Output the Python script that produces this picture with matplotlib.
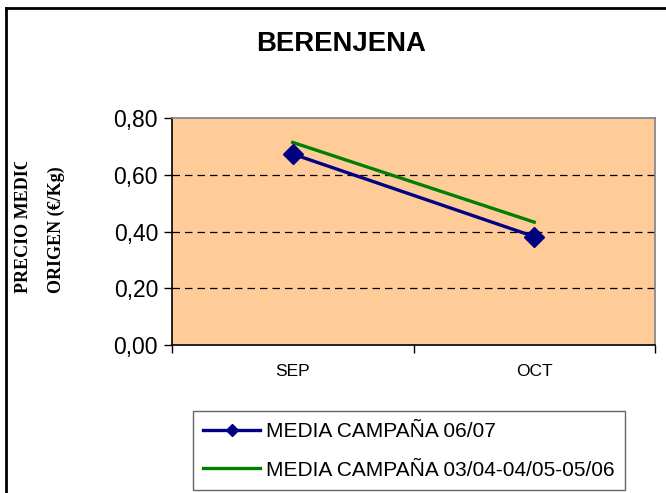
import matplotlib.pyplot as plt
from matplotlib.lines import Line2D
from matplotlib.transforms import Bbox

months = ["SEP", "OCT"]
media_0607 = [0.673, 0.382]
media_hist = [0.714, 0.433]
y_ticks = [0.0, 0.2, 0.4, 0.6, 0.8]
y_tick_labels = ["0,00", "0,20", "0,40", "0,60", "0,80"]

W, H = 666, 493
fig = plt.figure(figsize=(W / 100, H / 100), dpi=100)
ax = fig.add_axes([172 / W, 1 - 345 / H, (655 - 172) / W, (345 - 118) / H])
ax.set_facecolor("#FFCC99")

x = list(range(len(months)))
ax.plot(x, media_0607, color="#000080", lw=2.4, marker="D", ms=10.5,
        label="MEDIA CAMPAÑA 06/07", zorder=4)
ax.plot(x, media_hist, color="#008000", lw=2.4,
        label="MEDIA CAMPAÑA 03/04-04/05-05/06", zorder=3)

ax.set_xlim(-0.5, 1.5)
ax.set_ylim(0, 0.8)
ax.set_yticks(y_ticks)
ax.set_yticklabels(y_tick_labels, fontfamily="Liberation Sans", fontsize=16.5)
ax.set_xticks(x)
ax.set_xticklabels(months, fontfamily="Liberation Sans", fontsize=12.5)
ax.set_xticks([-0.5, 0.5, 1.5], minor=True)
ax.tick_params(axis="x", which="major", length=0, pad=14)
ax.tick_params(axis="x", which="minor", length=6, width=1, direction="out")
ax.tick_params(axis="y", length=6, width=1, direction="out", pad=4)

for yv in y_ticks[1:-1]:
    ax.axhline(yv, color="black", lw=0.9, ls=(0, (6, 4)), zorder=1)

ax.spines["left"].set_color("black")
ax.spines["bottom"].set_color("black")
ax.spines["top"].set_color("#808080")
ax.spines["right"].set_color("#808080")
for s in ax.spines.values():
    s.set_linewidth(1.2)

fig.text(341 / W, 1 - 44 / H, "BERENJENA", ha="center", va="center",
         fontfamily="Liberation Sans", fontweight="bold", fontsize=19.8)

# y label, first line clipped at the top as in the source
t1 = fig.text(24 / W, 1 - 293 / H, "PRECIO MEDIO", rotation=90,
              ha="center", va="bottom", fontfamily="Liberation Serif",
              fontweight="bold", fontsize=13)
t1.set_clip_box(Bbox([[0, 0], [W, H - 162]]))
t1.set_clip_on(True)
fig.text(56 / W, 1 - 293 / H, "ORIGEN (€/Kg)", rotation=90,
         ha="center", va="bottom", fontfamily="Liberation Serif",
         fontweight="bold", fontsize=13)

leg = fig.legend(loc="lower left", bbox_to_anchor=(193 / W, 1 - 490 / H),
                 frameon=True, fancybox=False, edgecolor="#404040",
                 prop={"family": "Liberation Sans", "size": 15},
                 handlelength=2.7, handletextpad=0.3, borderpad=0.5,
                 borderaxespad=0, labelspacing=0.95, markerscale=0.6)
leg.get_frame().set_linewidth(1.0)

# outer chart frame
fig.add_artist(Line2D([6 / W, 6 / W], [0, 1 - 8 / H], color="black", lw=2,
                      transform=fig.transFigure))
fig.add_artist(Line2D([6 / W, 1], [1 - 8 / H, 1 - 8 / H], color="black", lw=2,
                      transform=fig.transFigure))

fig.savefig("out.png", dpi=100)
